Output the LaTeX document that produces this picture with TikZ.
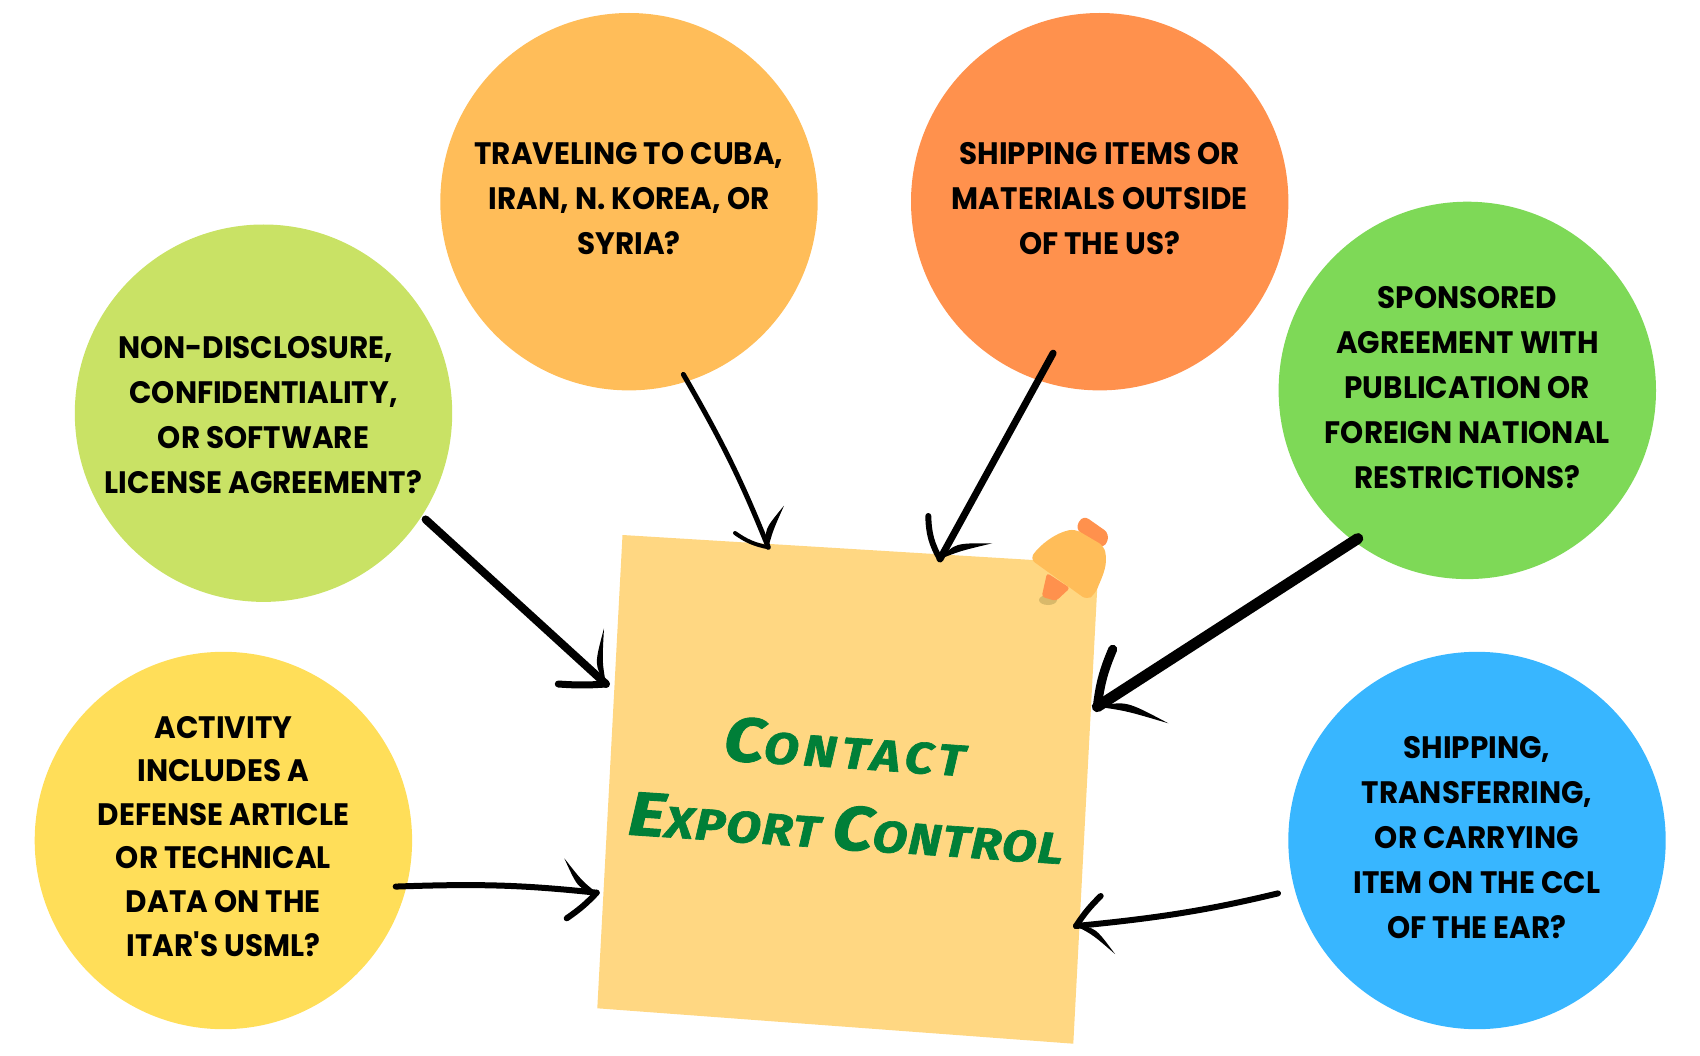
\documentclass[tikz,border=0pt]{standalone}
\usepackage{fontspec}
\usetikzlibrary{calc}
\newfontfamily\capsfont[FakeStretch=0.95]{Poppins}
\newfontfamily\handfont[FakeStretch=1.15,LetterSpace=3,BoldItalicFeatures={FakeBold=1.5}]{Fira Sans}
\newcommand{\bigh}[1]{{\fontsize{62}{80}\selectfont #1}}
\definecolor{ndacol}{HTML}{C9E265}
\definecolor{travelcol}{HTML}{FFBD59}
\definecolor{shipcol}{HTML}{FF914D}
\definecolor{sponscol}{HTML}{7ED957}
\definecolor{itemcol}{HTML}{38B6FF}
\definecolor{defcol}{HTML}{FFDE59}
\definecolor{notecol}{HTML}{FFD782}
\definecolor{inkcol}{HTML}{007F38}
\definecolor{pinshadow}{HTML}{D9B96A}
\tikzset{
	bubble/.style={circle, minimum size=377.4pt, inner sep=0pt, align=center, text=black,
		font=\capsfont\bfseries\fontsize{31}{45}\selectfont},
	shaft/.style={draw=black, line cap=round}
}
\begin{document}
\begin{tikzpicture}[x=1pt, y=-1pt, line join=round, line cap=round]
	\useasboundingbox (0,0) rectangle (1700,1056);
	\node[bubble, fill=ndacol] (nda) at (263.5,413.2) {NON-DISCLOSURE,\hspace*{16pt}\\CONFIDENTIALITY,\\OR SOFTWARE\\LICENSE AGREEMENT?\vspace{-4.4pt}};
	\node[bubble, fill=travelcol] (travel) at (629,201.7) {TRAVELING TO CUBA,\\IRAN, N. KOREA, OR\\SYRIA?\vspace{6.6pt}};
	\node[bubble, fill=shipcol] (ship) at (1099.7,201.7) {SHIPPING ITEMS OR\\MATERIALS OUTSIDE\\OF THE US?\vspace{6.6pt}};
	\node[bubble, fill=sponscol] (spons) at (1467.3,390.4) {SPONSORED\\AGREEMENT WITH\\PUBLICATION OR\\FOREIGN NATIONAL\\RESTRICTIONS?\vspace{6.6pt}};
	\node[bubble, fill=itemcol] (item) at (1477,840.5) {SHIPPING,\\TRANSFERRING,\\OR CARRYING\\ITEM ON THE CCL\\OF THE EAR?\vspace{6.6pt}};
	\node[bubble, fill=defcol, font=\capsfont\bfseries\fontsize{31}{43.6}\selectfont] (def) at (223.4,840.5) {ACTIVITY\\INCLUDES A\\DEFENSE ARTICLE\\OR TECHNICAL\\DATA ON THE\\ITAR'S USML?\vspace{8.6pt}};
	\path (622.5,535) coordinate(NW) (1098.5,564) coordinate(NE) (1073.3,1043.7) coordinate(SE) (597.3,1008.3) coordinate(SW);
	\fill[notecol] (NW)--(NE)--(SE)--(SW)--cycle;
	\node[rotate=-3.9, align=center, text=inkcol, font=\handfont\bfseries\itshape\fontsize{44}{81}\selectfont] (title) at (849,787.5) {{\addfontfeature{LetterSpace=11.5}\bigh{C}ONTACT}\hspace*{14pt}\\\bigh{E}XPORT \bigh{C}ONTROL};
	\fill[pinshadow] (1048,600) ellipse (9pt and 5pt);
	\fill[shipcol, rounded corners=3pt] (1047,573) -- (1070,588) -- (1056,601) -- (1041.7,596.7) -- cycle;
	\fill[shipcol, rounded corners=7pt] (1075,529) -- (1083,515) -- (1110,534) -- (1104,549) -- cycle;
	\fill[travelcol, rounded corners=6pt] (1075,529) .. controls (1055,533) and (1040,545) .. (1030,559) -- (1087,600) -- (1095,594) .. controls (1103,575) and (1108,565) .. (1104,546) -- cycle;
	\coordinate (tiptravel) at (768.3,547.3);
	\coordinate (tipship) at (940,559);
	\coordinate (tipnda) at (606,684);
	\coordinate (tipspons) at (1097.3,706.7);
	\coordinate (tipdef) at (596.7,892.7);
	\coordinate (tipitem) at (1076,926);
	\foreach \n/\a/\o/\w/\b in {travel/-72/-8/5/4, ship/-109.6/-31/7/0, nda/-33.4/5/8/0, spons/-127.8/-5/11/0, def/-14.5/-11/6/4, item/-165.5/17/6/4}
		\draw[shaft, line width=\w pt, shorten <=\o pt] (\n.\a) to[bend left=\b] (tip\n);
	\foreach \n/\x/\y/\w/\b in {travel/735/533/4/12, ship/928.3/516/6/14, nda/558.3/684/7/4, spons/1112.7/649.3/9/8, def/566.7/918.3/6/6, item/1100.7/896/6/6}
		\draw[shaft, line width=\w pt] (tip\n) to[bend left=\b] (\x,\y);
	\foreach \n/\x/\y/\r/\s in {travel/784/505.7/5/35, ship/992.3/543.3/5/30, nda/604/628.3/8/30, spons/1168.3/723.3/5/25, def/564.3/858.3/8/35, item/1115/954/8/32}
		\fill (tip\n) .. controls ($(tip\n)!.4!\r:(\x,\y)$) .. (\x,\y) .. controls ($(tip\n)!.4!\s:(\x,\y)$) .. (tip\n) -- cycle;
\end{tikzpicture}
\end{document}
